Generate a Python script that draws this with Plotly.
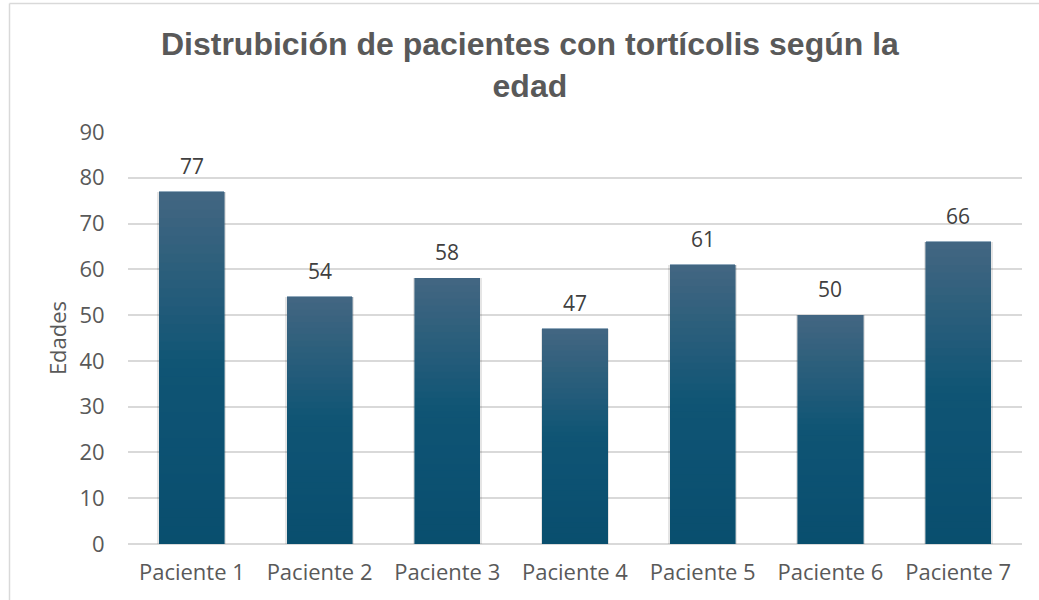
import plotly.graph_objects as go

categories = ["Paciente 1", "Paciente 2", "Paciente 3", "Paciente 4", "Paciente 5", "Paciente 6", "Paciente 7"]
ages = [77, 54, 58, 47, 61, 50, 66]
title_text = "Distrubición de pacientes con tortícolis según la<br>edad"
y_ticks = [0, 10, 20, 30, 40, 50, 60, 70, 80, 90]

W, H = 1039, 600
ML, MR, MT, MB = 128, 17, 132, 56
FONT = "Open Sans, Roboto, sans-serif"

TOP = (75, 115, 145)
MID = (17, 94, 130)
BOT = (11, 88, 123)


def lerp(a, b, t):
    return tuple(round(a[i] + (b[i] - a[i]) * t) for i in range(3))


def grad(f):
    if f >= 0.5:
        return lerp(MID, TOP, (f - 0.5) / 0.5)
    return lerp(BOT, MID, f / 0.5)


fig = go.Figure()

# soft shadow behind bars (on an overlaid axis)
fig.add_trace(go.Bar(
    x=categories, y=ages, xaxis="x2", yaxis="y2",
    marker=dict(color="rgba(0,0,0,0.10)", line=dict(width=0)),
    width=0.54, hoverinfo="skip", showlegend=False,
))

N = 40
for k in range(N):
    f = (k + 0.5) / N
    c = grad(f)
    fig.add_trace(go.Bar(
        x=categories, y=[v / N for v in ages],
        marker=dict(color="rgb(%d,%d,%d)" % c, line=dict(width=0.6, color="rgb(%d,%d,%d)" % c)),
        width=0.51, hoverinfo="skip", showlegend=False,
    ))

for cat, v in zip(categories, ages):
    fig.add_annotation(x=cat, y=v, text=str(v), showarrow=False, yshift=26,
                       font=dict(family=FONT, size=21, color="#404040"))

fig.update_layout(
    width=W, height=H,
    margin=dict(l=ML, r=MR, t=MT, b=MB),
    paper_bgcolor="white", plot_bgcolor="white",
    barmode="stack",
    title=dict(text=title_text, x=0.51, xref="container", xanchor="center",
               y=1 - 55 / H, yref="container", yanchor="top",
               font=dict(family="Liberation Sans, Arial, sans-serif", size=32, color="#595959",
                         weight="bold")),
    xaxis=dict(showgrid=False, showline=False, zeroline=False,
               tickfont=dict(family=FONT, size=22, color="#595959"),
               ticks="outside", ticklen=9, tickcolor="rgba(0,0,0,0)"),
    xaxis2=dict(overlaying="x", matches="x", visible=False),
    yaxis=dict(range=[0, 90], tickvals=y_ticks, showgrid=True, gridcolor="#d9d9d9", gridwidth=1.5,
               zeroline=True, zerolinecolor="#d9d9d9", zerolinewidth=1.5, showline=False,
               tickfont=dict(family=FONT, size=22, color="#595959"),
               ticks="outside", ticklen=18, tickcolor="rgba(0,0,0,0)",
               title=dict(text="Edades", standoff=6,
                          font=dict(family=FONT, size=22, color="#595959"))),
    yaxis2=dict(overlaying="y", matches="y", visible=False),
)

# chart frame (left and top edges visible)
fig.add_shape(type="line", xref="paper", yref="paper",
              x0=(9.5 - ML) / (W - ML - MR), x1=(9.5 - ML) / (W - ML - MR),
              y0=(MB - H) / (H - MT - MB), y1=1 + (MT - 3.5) / (H - MT - MB),
              line=dict(color="#d9d9d9", width=1.5))
fig.add_shape(type="line", xref="paper", yref="paper",
              x0=(9.5 - ML) / (W - ML - MR), x1=1 + MR / (W - ML - MR),
              y0=1 + (MT - 3.5) / (H - MT - MB), y1=1 + (MT - 3.5) / (H - MT - MB),
              line=dict(color="#d9d9d9", width=1.5))

fig.write_html("out.html", config={"displayModeBar": False},
               post_script="document.body.style.margin='0';")
